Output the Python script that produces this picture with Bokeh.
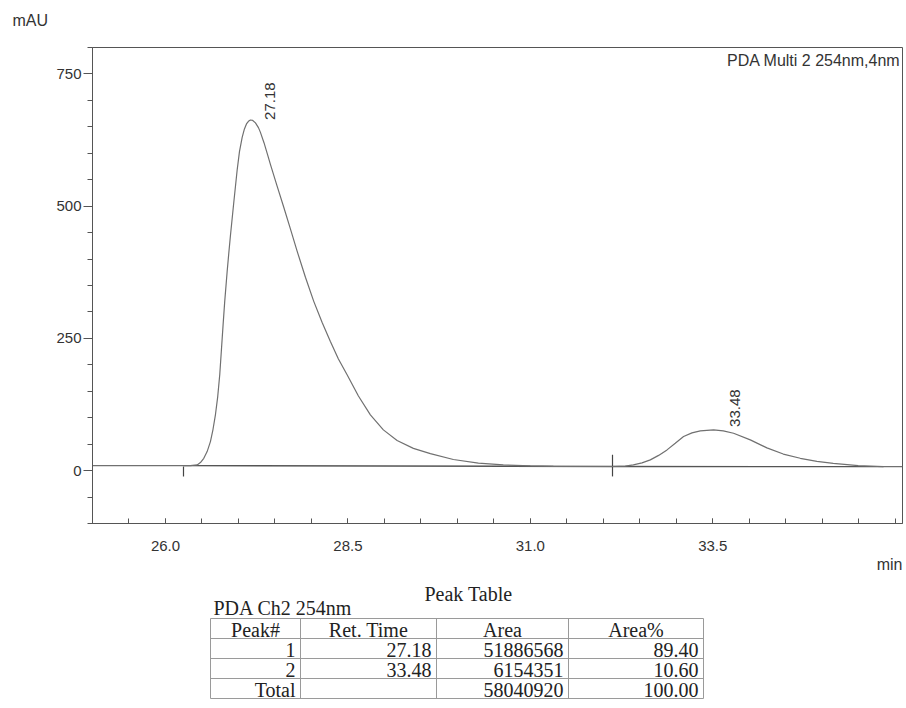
import math
from bokeh.plotting import figure
from bokeh.models import Range1d, FixedTicker, Label, Title, ColumnDataSource
from bokeh.layouts import column
from bokeh.embed import file_html
from bokeh.resources import INLINE
from bokeh.core.properties import value

# ---------------- chromatogram ----------------
time_min = [25.00, 25.50, 26.00, 26.247, 26.34, 26.434, 26.479, 26.525, 26.571, 26.616,
            26.651, 26.685, 26.716, 26.744, 26.767, 26.790, 26.812, 26.845, 26.867, 26.890,
            26.936, 26.982, 27.014, 27.051, 27.082, 27.110, 27.137, 27.164, 27.192, 27.233,
            27.274, 27.300, 27.350, 27.400, 27.438, 27.530, 27.621, 27.712, 27.804, 27.918,
            28.032, 28.147, 28.260, 28.370, 28.489, 28.644, 28.808, 28.986, 29.174, 29.397,
            29.630, 29.945, 30.288, 30.630, 31.00, 31.315, 31.80, 32.126, 32.30, 32.411,
            32.53, 32.644, 32.758, 32.873, 32.986, 33.100, 33.215, 33.329, 33.511, 33.644,
            33.785, 34.014, 34.242, 34.466, 34.699, 34.927, 35.151, 35.493, 35.836, 36.10]
absorbance_mau = [9.5, 9.5, 9.5, 9.5, 9.6, 10.8, 15.2, 23.3, 36.0, 54.9,
                  77.7, 106.0, 140.0, 181.8, 229.0, 276.5, 320.0, 376.0, 410.0, 444.0,
                  507.0, 568.0, 603.0, 630.0, 646.0, 655.5, 660.5, 662.9, 662.5, 657.5,
                  648.5, 640.0, 620.0, 597.0, 579.0, 538.0, 498.0, 457.0, 415.0, 365.5,
                  320.0, 280.0, 244.3, 211.0, 181.3, 141.0, 105.5, 77.0, 57.0, 42.0,
                  32.0, 21.0, 14.0, 10.8, 9.0, 8.0, 7.8, 7.8, 8.5, 10.8,
                  14.6, 20.3, 28.8, 39.2, 51.7, 64.4, 71.4, 75.2, 77.1, 75.2,
                  70.6, 58.1, 43.0, 31.3, 23.3, 17.6, 13.8, 9.5, 7.6, 7.6]

# peaks
peak_no = ["1", "2"]
peak_rt = [27.18, 33.48]
peak_height = [663.0, 77.0]
peak_area = [51886568, 6154351]
peak_area_pct = [89.40, 10.60]
total_area = 58040920
total_area_pct = 100.00

# integration marks and baselines
integ_time = [26.247, 32.126]
integ_top = [7.6, 30.0]
integ_bottom = [-11.0, -11.0]
baseline_t0 = [26.247, 32.126]
baseline_t1 = [32.126, 35.84]
baseline_v0 = [9.5, 7.8]
baseline_v1 = [7.8, 7.6]

# axes
x_major = [26.0, 28.5, 31.0, 33.5]
x_tick_labels = ["26.0", "28.5", "31.0", "33.5"]
x_minor = [25.5, 26.0, 26.5, 27.0, 27.5, 28.0, 28.5, 29.0, 29.5, 30.0, 30.5, 31.0,
           31.5, 32.0, 32.5, 33.0, 33.5, 34.0, 34.5, 35.0, 35.5, 36.0]
y_major = [0, 250, 500, 750]
y_tick_labels = ["0", "250", "500", "750"]
y_minor = [-100, -50, 0, 50, 100, 150, 200, 250, 300, 350, 400, 450, 500, 550, 600,
           650, 700, 750, 800]

channel_title = "PDA Multi 2 254nm,4nm"
y_unit = "mAU"
x_unit = "min"

# table texts
table_title = "Peak Table"
table_channel = "PDA Ch2 254nm"
table_headers = ["Peak#", "Ret. Time", "Area", "Area%"]
total_label = "Total"

SANS = "Liberation Sans"
SERIF = "Liberation Serif"
INK = "#333333"
AXC = "#555555"
CURVE = "#707070"

p = figure(width=904, height=578, x_range=Range1d(25.0, 36.1), y_range=Range1d(-100, 800),
           output_backend="svg", toolbar_location=None,
           min_border_left=92, min_border_top=47, min_border_right=2, min_border_bottom=55)
p.title.visible = False
p.grid.visible = False
p.outline_line_color = AXC
p.outline_line_width = 1
p.background_fill_color = "white"
p.border_fill_color = "white"

p.xaxis.ticker = FixedTicker(ticks=x_major, minor_ticks=x_minor)
p.xaxis.major_label_overrides = {t: l for t, l in zip(x_major, x_tick_labels)}
p.yaxis.ticker = FixedTicker(ticks=y_major, minor_ticks=y_minor)
p.yaxis.major_label_overrides = {t: l for t, l in zip(y_major, y_tick_labels)}

for ax in (p.xaxis[0], p.yaxis[0]):
    ax.axis_line_color = AXC
    ax.major_tick_line_color = AXC
    ax.minor_tick_line_color = AXC
    ax.major_label_text_font = SANS
    ax.major_label_text_font_size = "15px"
    ax.major_label_text_color = INK

p.xaxis.major_tick_in = 5
p.xaxis.major_tick_out = 0
p.xaxis.minor_tick_in = 5
p.xaxis.minor_tick_out = 0
p.xaxis.major_label_standoff = 17

p.yaxis.major_tick_in = 0
p.yaxis.major_tick_out = 9
p.yaxis.minor_tick_in = 0
p.yaxis.minor_tick_out = 5
p.yaxis.major_label_standoff = 2

# baselines and integration marks
p.segment(x0=baseline_t0, y0=baseline_v0, x1=baseline_t1, y1=baseline_v1,
          line_color="#555555", line_width=1.3)
p.segment(x0=integ_time, y0=integ_bottom, x1=integ_time, y1=integ_top,
          line_color="#444444", line_width=1.2)

# chromatogram
p.line(time_min, absorbance_mau, line_color=CURVE, line_width=1.2)

# peak labels (rotated, just right of each apex)
label_src = ColumnDataSource(dict(x=peak_rt, y=peak_height,
                                  text=["%.2f" % v for v in peak_rt],
                                  dx=[18, 24], dy=[0, -3]))
p.text(x="x", y="y", text="text", source=label_src, angle=math.pi / 2,
       text_align="left", text_baseline="middle", x_offset="dx", y_offset="dy",
       text_font=value(SANS), text_font_size="15px", text_color=INK)

# channel name
p.add_layout(Label(x=36.1, y=792, x_offset=-2, text=channel_title, text_align="right",
                   text_baseline="top", text_font=SANS, text_font_size="16px",
                   text_color=INK))
# units (as titles outside the frame); a tiny blank title spaces "mAU" upward
p.add_layout(Title(text=" ", align="left", standoff=1, text_font=SANS,
                   text_font_size="5px", text_color="white"), "above")
p.add_layout(Title(text=y_unit, align="left", offset=-80, standoff=19,
                   text_font=SANS, text_font_size="16px", text_font_style="normal",
                   text_color=INK), "above")
p.add_layout(Title(text=x_unit, align="right", offset=0, standoff=0,
                   text_font=SANS, text_font_size="16px", text_font_style="normal",
                   text_color=INK), "below")

# ---------------- peak table (frame aligned with the chart frame) ----------------
TH = 128
t = figure(width=904, height=TH, x_range=Range1d(92, 902), y_range=Range1d(TH, 0),
           output_backend="svg", toolbar_location=None,
           min_border_left=92, min_border_right=2, min_border_top=0, min_border_bottom=0,
           x_axis_type=None, y_axis_type=None)
t.title.visible = False
t.grid.visible = False
t.outline_line_color = None
t.background_fill_color = "white"
t.border_fill_color = "white"

cols = [210, 300, 436, 568, 703]
rows = [40, 60, 80, 100, 120]
GRID = "#9a9a9a"
t.segment(x0=[cols[0]] * len(rows), x1=[cols[-1]] * len(rows), y0=rows, y1=rows,
          line_color=GRID, line_width=1)
t.segment(x0=cols, x1=cols, y0=[rows[0]] * len(cols), y1=[rows[-1]] * len(cols),
          line_color=GRID, line_width=1)

tf = dict(text_font=value(SERIF), text_font_size="20px", text_color="#222222",
          text_baseline="middle")
t.text(x=[468], y=[15], text=[table_title], text_align="center", **tf)
t.text(x=[213], y=[29], text=[table_channel], text_align="left", **tf)

hx = [(cols[i] + cols[i + 1]) / 2 for i in range(4)]
t.text(x=hx, y=[(rows[0] + rows[1]) / 2 + 1] * 4, text=table_headers, text_align="center", **tf)

body = []
for i in range(len(peak_no)):
    body.append([peak_no[i], "%.2f" % peak_rt[i], "%d" % peak_area[i], "%.2f" % peak_area_pct[i]])
body.append([total_label, "", "%d" % total_area, "%.2f" % total_area_pct])
bx, by, bt = [], [], []
for r, cells in enumerate(body):
    for c, txt in enumerate(cells):
        if txt:
            bx.append(cols[c + 1] - 5)
            by.append((rows[r + 1] + rows[r + 2]) / 2 + 1)
            bt.append(txt)
t.text(x=bx, y=by, text=bt, text_align="right", **tf)

layout = column(p, t, spacing=0)
open("out.html", "w").write(file_html(layout, INLINE))
